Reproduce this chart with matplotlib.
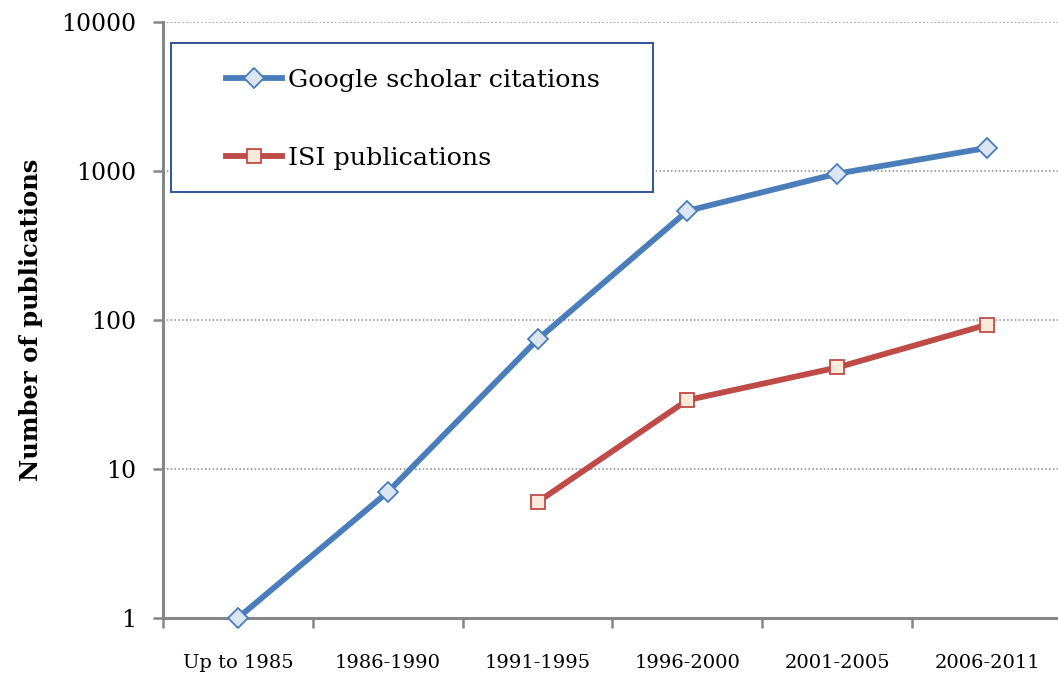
import matplotlib
matplotlib.use("Agg")
import matplotlib.pyplot as plt
from matplotlib.patches import Rectangle
from matplotlib.ticker import FixedLocator, NullLocator, FixedFormatter

categories = ["Up to 1985", "1986-1990", "1991-1995", "1996-2000", "2001-2005", "2006-2011"]
google_scholar = [1, 7, 74, 540, 960, 1430]
isi_categories = ["1991-1995", "1996-2000", "2001-2005", "2006-2011"]
isi_pubs = [6, 29, 48, 93]
ytick_vals = [1, 10, 100, 1000, 10000]
ytick_labels = ["1", "10", "100", "1000", "10000"]

plt.rcParams['font.family'] = ['DejaVu Serif']

fig = plt.figure(figsize=(10.58, 6.8), dpi=100)
ax = fig.add_axes([163/1058, 62/680, 899/1058, 596/680])

xg = [categories.index(c) for c in categories]
xi = [categories.index(c) for c in isi_categories]

blue = "#4A7EBB"
red = "#BE4B48"
ax.plot(xg, google_scholar, color=blue, lw=4.2, marker="D", ms=10.5,
        mfc="#DCE6F2", mec=blue, mew=1.3, label="Google scholar citations",
        zorder=3, clip_on=False)
ax.plot(xi, isi_pubs, color=red, lw=4.2, marker="s", ms=10.5,
        mfc="#FDEADA", mec=red, mew=1.3, label="ISI publications",
        zorder=3, clip_on=False)

ax.set_yscale("log")
ax.set_ylim(1, 10000)
ax.set_xlim(-0.5, len(categories) - 0.5)
ax.yaxis.set_major_locator(FixedLocator(ytick_vals))
ax.yaxis.set_major_formatter(FixedFormatter(ytick_labels))
ax.yaxis.set_minor_locator(NullLocator())

# x: labels at centers, tick marks at boundaries
ax.set_xticks(range(len(categories)))
ax.set_xticklabels(categories, fontsize=14)
ax.tick_params(axis="x", which="major", length=0, pad=26)
ax.set_xticks([i - 0.5 for i in range(len(categories) + 1)], minor=True)
ax.tick_params(axis="x", which="minor", length=7, width=1.8, color="#868686", direction="out")
ax.tick_params(axis="y", which="major", length=7, width=1.8, color="#868686",
               labelsize=17, pad=12)

for s in ["top", "right"]:
    ax.spines[s].set_visible(False)
for s in ["left", "bottom"]:
    ax.spines[s].set_color("#868686")
    ax.spines[s].set_linewidth(2.2)

ax.grid(axis="y", which="major", linestyle=(0, (1, 1.5)), color="#868686", lw=1.1)
ax.set_axisbelow(True)

ax.set_ylabel("Number of publications", fontsize=17.5, fontweight="bold", labelpad=13)

# legend box
box = Rectangle((8/899, 1 - 170/596), 482/899, 149/596, transform=ax.transAxes,
                facecolor="white", edgecolor="#2F5597", lw=1.4, zorder=4)
ax.add_patch(box)
leg = ax.legend(loc="upper left", bbox_to_anchor=((226 - 163)/899, 1 - 47/596),
                fontsize=18.3, frameon=False,
                handlelength=2.2, handletextpad=0.25, labelspacing=2.15,
                borderpad=0, borderaxespad=0)
leg.set_zorder(5)

fig.savefig("out.png", dpi=100)
